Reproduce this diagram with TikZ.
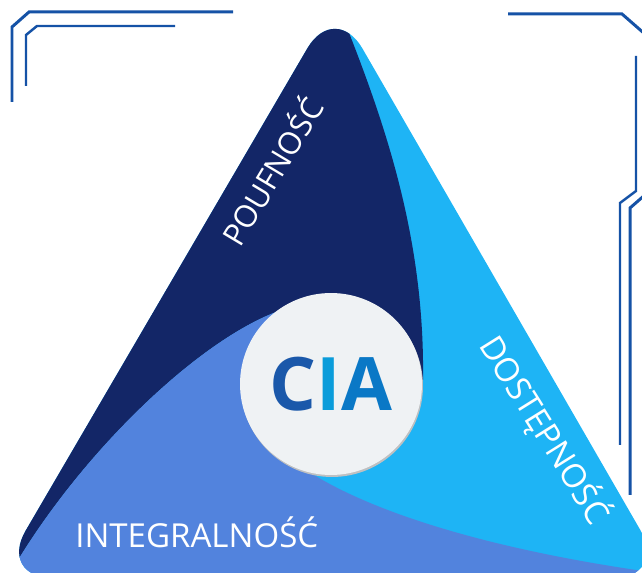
\documentclass[tikz,border=0pt]{standalone}
\usepackage{fontspec}
\setmainfont{Open Sans}
\usepackage{tikz}
\usepackage{xcolor}

\definecolor{navy}{HTML}{132667}
\definecolor{skyblue}{HTML}{1EB4F5}
\definecolor{midblue}{HTML}{5283DD}
\definecolor{disc}{HTML}{EFF2F4}
\definecolor{discshadow}{HTML}{BEC0C2}
\definecolor{framec}{HTML}{1552A6}
\definecolor{ciaC}{HTML}{1A58AA}
\definecolor{ciaI}{HTML}{0A9CDA}
\definecolor{ciaA}{HTML}{0A78C6}

\tikzset{
    sidetext/.style={text=white, inner sep=0pt, anchor=base west},
    frameline/.style={draw=framec, line width=1.7pt},
}

\begin{document}
\begin{tikzpicture}[x=0.02cm, y=-0.02cm]
        \useasboundingbox (0,0) rectangle (642,573);

        % Ramki w rogach
        \draw[frameline] (12,102) -- (12,27) -- (29,12) -- (233,12);
        \draw[frameline, line width=1.4pt] (26,86) -- (26,35) -- (37,26) -- (175,26);
        \draw[frameline] (508,14) -- (622,14) -- (646,35);
        \draw[frameline, line width=1.4pt] (636,56) -- (636,191) -- (620,203) -- (620,445);
        \draw[frameline] (646,194) -- (630,208) -- (630,495);

        % Trojkat podzielony na trzy czesci
        \begin{scope}
            \clip[rounded corners=1.1cm] (335,1) -- (668,578) -- (-2,578) -- cycle;
            \fill[skyblue] (-50,-50) rectangle (700,650);
            \fill[navy] (338,-30) -- (338,5) .. controls (380,110) and (425,230) .. (423,380)
                -- (331,384) -- (300,305) .. controls (220,320) and (90,440) .. (15,565)
                -- (-50,650) -- (-50,-30) -- cycle;
            \fill[midblue] (331,384) -- (300,305) .. controls (220,320) and (90,440) .. (15,565)
                -- (-50,650) -- (700,650) -- (650,572) .. controls (480,548) and (340,505) .. (280,450)
                -- cycle;
        \end{scope}

        % Kolo w srodku
        \node[circle, fill=discshadow, minimum size=3.64cm, inner sep=0pt] (ciashadow) at (332,386) {};
        \node[circle, fill=disc, minimum size=3.64cm, inner sep=0pt,
              font=\fontsize{42}{42}\selectfont\bfseries] (cia) at (331,384)
              {\textcolor{ciaC}{C}\textcolor{ciaI}{I}\textcolor{ciaA}{A}};

        % Napisy na bokach
        \node[sidetext, rotate=59, font=\fontsize{17.6}{19}\selectfont] (poufnosc) at (240,249) {POUFNOŚĆ};
        \node[sidetext, rotate=-58, font=\fontsize{18.8}{20}\selectfont] (dostepnosc) at (478,345) {DOSTĘPNOŚĆ};
        \node[sidetext, font=\fontsize{18.8}{20}\selectfont] (integralnosc) at (75,548) {INTEGRALNOŚĆ};
    \end{tikzpicture}
\end{document}
